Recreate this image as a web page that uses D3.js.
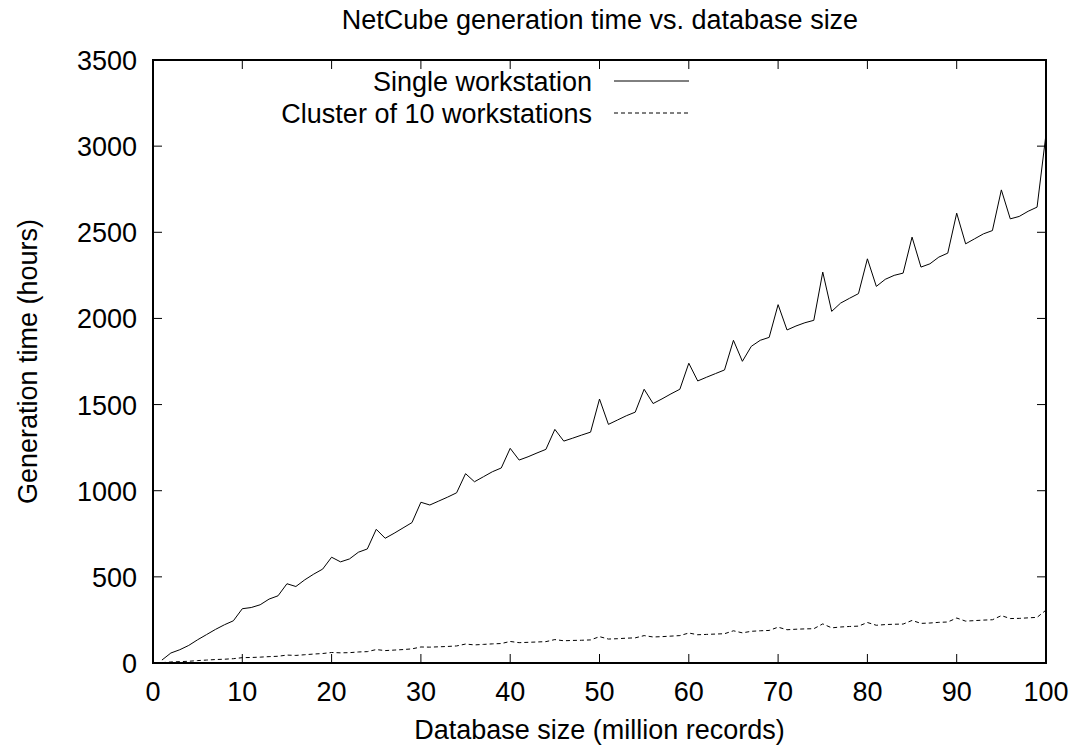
<!DOCTYPE html>
<html><head><meta charset="utf-8">
<script src="https://cdn.jsdelivr.net/npm/d3@7"></script>
<style>body{margin:0;background:#fff}text{font-family:"Liberation Sans",Arial,sans-serif;fill:#000}</style>
</head><body><svg id="c" width="1078" height="746"></svg>
<script>
const sizes = d3.range(1, 101);
const single = [17,58,77,102,135,165,195,222,245,315,322,338,371,390,460,444,483,516,545,614,
587,604,643,662,776,724,753,784,815,933,917,940,963,988,1099,1052,1081,1110,1132,1246,
1178,1197,1219,1240,1356,1288,1305,1323,1340,1532,1385,1410,1435,1456,1589,1506,1533,1562,1589,1740,
1637,1659,1680,1701,1873,1751,1838,1873,1890,2080,1933,1956,1975,1989,2269,2041,2089,2117,2144,2346,
2186,2227,2250,2263,2472,2298,2317,2356,2379,2611,2433,2462,2491,2510,2746,2578,2592,2622,2646,3070];
const cluster = [2,6,8,10,14,17,20,22,25,31,32,34,37,39,46,44,48,52,55,61,
59,60,64,66,78,72,75,78,82,93,92,94,96,99,110,105,108,111,113,125,
118,120,122,124,136,129,131,132,134,153,139,141,144,146,159,151,153,156,159,174,
164,166,168,170,187,175,184,187,189,208,193,196,198,199,227,204,209,212,214,235,
219,223,225,226,247,230,232,236,238,261,243,246,249,251,275,258,259,262,265,307];
const xTicks = d3.range(0, 101, 10);
const yTicks = d3.range(0, 3501, 500);
const title = "NetCube generation time vs. database size";
const xLabel = "Database size (million records)";
const yLabel = "Generation time (hours)";
const seriesNames = ["Single workstation", "Cluster of 10 workstations"];

const svg = d3.select("#c");
const L = 153, R = 1046, T = 60, B = 663;
const x = d3.scaleLinear().domain([0, 100]).range([L, R]);
const y = d3.scaleLinear().domain([0, 3500]).range([B, T]);
const fs = 27;

const tl = 9;
const g = svg.append("g").attr("stroke", "#000").attr("stroke-width", 1);
xTicks.forEach(t => {
  g.append("line").attr("x1", x(t)).attr("x2", x(t)).attr("y1", B).attr("y2", B - tl);
  g.append("line").attr("x1", x(t)).attr("x2", x(t)).attr("y1", T).attr("y2", T + tl);
});
yTicks.forEach(t => {
  g.append("line").attr("x1", L).attr("x2", L + tl).attr("y1", y(t)).attr("y2", y(t));
  g.append("line").attr("x1", R).attr("x2", R - tl).attr("y1", y(t)).attr("y2", y(t));
});

svg.append("g").selectAll("text").data(xTicks).join("text")
  .attr("x", d => x(d)).attr("y", B + 38).attr("text-anchor", "middle")
  .attr("font-size", fs).text(d => d);
svg.append("g").selectAll("text").data(yTicks).join("text")
  .attr("x", L - 16).attr("y", d => y(d) + 10).attr("text-anchor", "end")
  .attr("font-size", fs).text(d => d);

const line = d3.line().x((d, i) => x(sizes[i])).y(d => y(d));
svg.append("path").attr("d", line(single)).attr("fill", "none").attr("stroke", "#000").attr("stroke-width", 1);
svg.append("path").attr("d", line(cluster)).attr("fill", "none").attr("stroke", "#000").attr("stroke-width", 1).attr("stroke-dasharray", "4,3");

svg.append("rect").attr("x", L).attr("y", T).attr("width", R - L).attr("height", B - T)
  .attr("fill", "none").attr("stroke", "#000").attr("stroke-width", 2);

const lx = 592, ly = [81, 113];
seriesNames.forEach((n, i) => {
  svg.append("text").attr("x", lx).attr("y", ly[i] + 10).attr("text-anchor", "end").attr("font-size", fs).text(n);
  svg.append("line").attr("x1", lx + 22).attr("x2", lx + 97).attr("y1", ly[i]).attr("y2", ly[i])
    .attr("stroke", "#000").attr("stroke-width", 1).attr("stroke-dasharray", i ? "4,3" : null);
});

svg.append("text").attr("x", 600).attr("y", 29).attr("text-anchor", "middle").attr("font-size", fs).text(title);
svg.append("text").attr("x", x(50)).attr("y", 739).attr("text-anchor", "middle").attr("font-size", fs).text(xLabel);
svg.append("text").attr("transform", `translate(37,${(T + B) / 2}) rotate(-90)`).attr("text-anchor", "middle").attr("font-size", fs).text(yLabel);
</script></body></html>
